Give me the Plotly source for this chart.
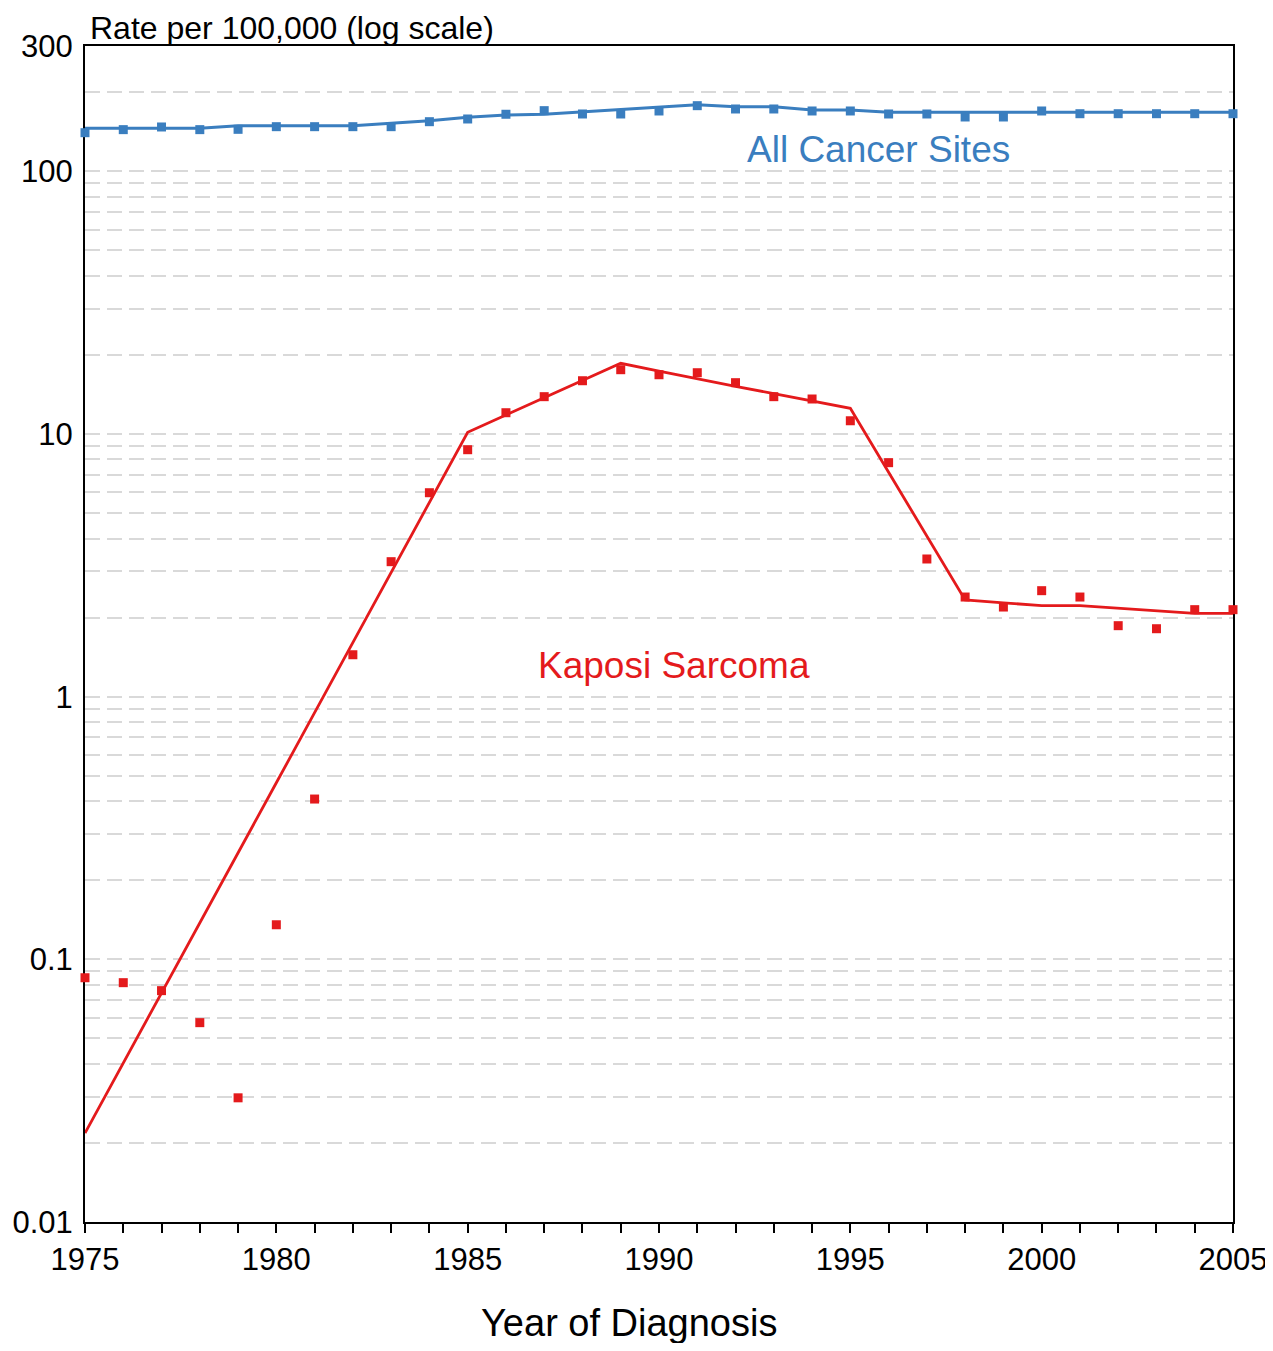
import plotly.graph_objects as go

years = list(range(1975, 2006))

# All Cancer Sites: observed rates and fitted trend (per 100,000)
all_obs = [140.3, 144.1, 147.5, 144.1, 144.5, 147.9, 147.9, 147.9, 147.9, 154.5, 158.2,
           164.9, 170.2, 165.3, 165.3, 169.7, 177.8, 172.7, 172.7, 169.7, 169.7,
           165.3, 165.3, 161.0, 161.0, 169.7, 165.7, 165.7, 165.7, 165.7, 165.7]
all_fit = [145.8, 145.8, 145.8, 145.8, 149.2, 149.2, 149.2, 149.2, 152.3, 155.8, 160.6,
           163.9, 164.9, 168.4, 172.0, 175.6, 179.3, 176.2, 176.2, 171.2, 171.2,
           167.8, 167.8, 167.8, 167.8, 167.8, 167.8, 167.8, 167.8, 167.8, 167.8]

# Kaposi Sarcoma: observed rates and fitted trend (per 100,000)
ks_obs = [0.0851, 0.0815, 0.0760, 0.0574, 0.0297, 0.1354, 0.4076, 1.444, 3.265, 5.976, 8.713,
          12.05, 13.87, 15.95, 17.57, 16.81, 17.11, 15.68, 13.87, 13.59, 11.23,
          7.777, 3.343, 2.395, 2.194, 2.532, 2.395, 1.863, 1.814, 2.144, 2.144]
ks_fit = [0.0218, 0.0402, 0.0744, 0.1375, 0.2542, 0.470, 0.869, 1.606, 2.969, 5.489, 10.15,
          11.81, 13.73, 15.97, 18.58, 17.34, 16.19, 15.19, 14.24, 13.36, 12.53,
          7.152, 4.087, 2.333, 2.276, 2.220, 2.220, 2.172, 2.123, 2.077, 2.077]

# y-axis ticks (gridlines at every 1-9 multiple, labels on a few)
grid_vals = [m * 10 ** e for e in range(-2, 3) for m in range(1, 10)] + [300]
label_map = {0.01: "0.01", 0.1: "0.1", 1: "1", 10: "10", 100: "100", 300: "300"}
grid_text = []
for v in grid_vals:
    txt = ""
    for k, t in label_map.items():
        if abs(k - v) < 1e-9 * max(1, k):
            txt = t
    grid_text.append(txt)

BLUE = "#3a7ebf"
RED = "#e41a1c"
FONT = "Liberation Sans, Arial, sans-serif"

fig = go.Figure()
fig.add_trace(go.Scatter(x=years, y=all_fit, mode="lines",
                         line=dict(color=BLUE, width=3), cliponaxis=False, showlegend=False))
fig.add_trace(go.Scatter(x=years, y=all_obs, mode="markers",
                         marker=dict(symbol="square", size=9, color=BLUE), cliponaxis=False,
                         showlegend=False))
fig.add_trace(go.Scatter(x=years, y=ks_fit, mode="lines",
                         line=dict(color=RED, width=2.8), cliponaxis=False, showlegend=False))
fig.add_trace(go.Scatter(x=years, y=ks_obs, mode="markers",
                         marker=dict(symbol="square", size=9, color=RED), cliponaxis=False,
                         showlegend=False))

fig.update_layout(
    width=1265, height=1335,
    margin=dict(l=77, r=40, t=38, b=121, autoexpand=False),
    plot_bgcolor="white", paper_bgcolor="white",
    font=dict(family=FONT, color="black", size=31),
    xaxis=dict(range=[1975, 2005], tickmode="linear", tick0=1975, dtick=5,
               ticks="outside", ticklen=9, tickwidth=1.5, tickcolor="black",
               minor=dict(dtick=1, tick0=1975, ticks="outside", ticklen=9, tickwidth=1.5,
                          tickcolor="black", showgrid=False),
               showgrid=False, zeroline=False, automargin=False,
               showline=True, linecolor="black", linewidth=2, mirror=True,
               tickfont=dict(size=31, family=FONT), layer="below traces",
               ticklabeloverflow="allow"),
    yaxis=dict(type="log", range=[-2, 2.4771], tickmode="array",
               tickvals=grid_vals, ticktext=grid_text, ticks="",
               showgrid=True, gridcolor="#d9d9d9", gridwidth=2, griddash="15px,7px",
               zeroline=False, showline=True, linecolor="black", linewidth=2, mirror=True,
               tickfont=dict(size=31, family=FONT), ticklabelstandoff=4, automargin=False,
               layer="below traces", ticklabeloverflow="allow"),
)

fig.add_annotation(text="Rate per 100,000 (log scale)", xref="paper", yref="paper",
                   x=0.0026, y=1.0153, xanchor="left", yanchor="middle", showarrow=False,
                   font=dict(size=32, family=FONT, color="black"))
fig.add_annotation(text="Year of Diagnosis", xref="paper", yref="paper",
                   x=0.4739, y=-0.086, xanchor="center", yanchor="middle", showarrow=False,
                   font=dict(size=38, family=FONT, color="black"))
fig.add_annotation(text="All Cancer Sites", xref="paper", yref="paper",
                   x=0.6908, y=0.9116, xanchor="center", yanchor="middle", showarrow=False,
                   font=dict(size=37, family=FONT, color=BLUE))
fig.add_annotation(text="Kaposi Sarcoma", xref="paper", yref="paper",
                   x=0.513, y=0.4736, xanchor="center", yanchor="middle", showarrow=False,
                   font=dict(size=37, family=FONT, color=RED))

fig.write_html("out.html")
